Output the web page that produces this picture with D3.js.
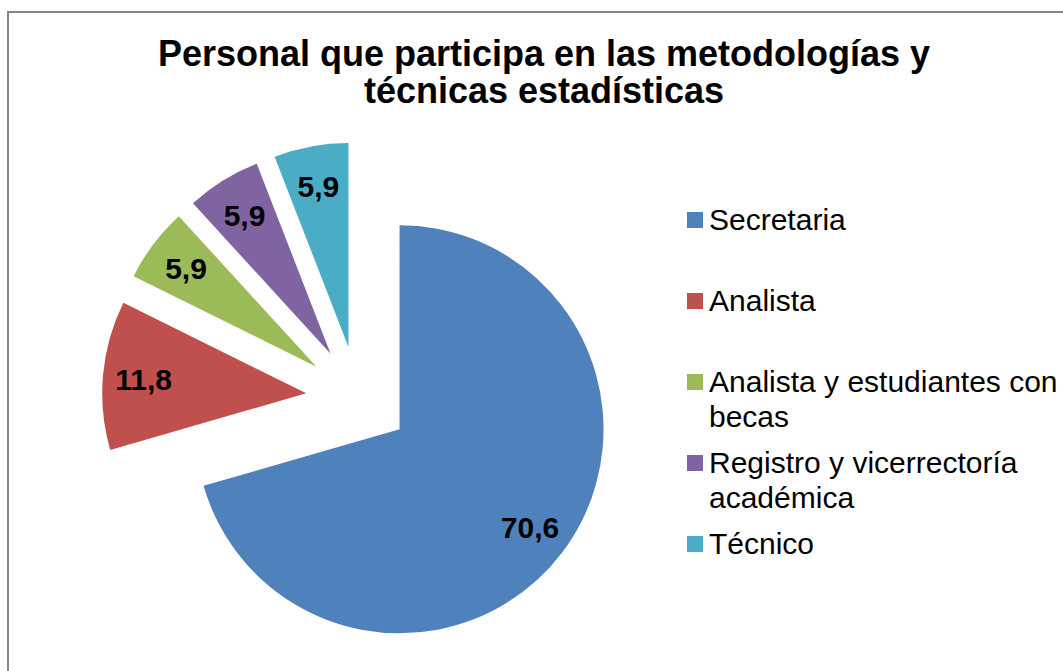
<!DOCTYPE html>
<html>
<head>
<meta charset="utf-8">
<script src="https://cdn.jsdelivr.net/npm/d3@7"></script>
<style>
  html, body { margin: 0; padding: 0; background: #fff; }
  svg { display: block; font-family: "Liberation Sans", Arial, sans-serif; }
</style>
</head>
<body>
<div id="chart"></div>
<script>
// ---- Data ----
const categories = [
  "Secretaria",
  "Analista",
  "Analista y estudiantes con becas",
  "Registro y vicerrectoría académica",
  "Técnico"
];
const values = [70.6, 11.8, 5.9, 5.9, 5.9];
const valueLabels = ["70,6", "11,8", "5,9", "5,9", "5,9"];
const colors = ["#4F81BD", "#C0504D", "#9BBB59", "#8064A2", "#4BACC6"];
const titleLines = ["Personal que participa en las metodologías y", "técnicas estadísticas"];

const W = 1063, H = 671;
const svg = d3.select("#chart").append("svg")
  .attr("width", W).attr("height", H);

// chart area border (runs off right/bottom like the source)
svg.append("rect")
  .attr("x", 8).attr("y", 12)
  .attr("width", W + 20).attr("height", H + 20)
  .attr("fill", "#fff")
  .attr("stroke", "#868686")
  .attr("stroke-width", 2);

// ---- Title ----
svg.append("text")
  .attr("text-anchor", "middle")
  .attr("font-size", 36)
  .attr("font-weight", "bold")
  .attr("fill", "#000")
  .selectAll("tspan")
  .data(titleLines)
  .join("tspan")
  .attr("x", 544)
  .attr("y", (d, i) => 66 + i * 37)
  .text(d => d);

// ---- Pie ----
const cx = 358, cy = 398, radius = 204, explode = 52;
const pie = d3.pie().sort(null).value(d => d.value);
const arcs = pie(values.map((v, i) => ({ value: v, i })));
const arc = d3.arc().innerRadius(0).outerRadius(radius);
const labelArc = d3.arc().innerRadius(radius * 0.8).outerRadius(radius * 0.8);

const g = svg.append("g").attr("transform", `translate(${cx},${cy})`);

const slices = g.selectAll("g.slice")
  .data(arcs)
  .join("g")
  .attr("class", "slice")
  .attr("transform", d => {
    const a = (d.startAngle + d.endAngle) / 2;
    return `translate(${Math.sin(a) * explode},${-Math.cos(a) * explode})`;
  });

slices.append("path")
  .attr("d", arc)
  .attr("fill", d => colors[d.data.i]);

slices.append("text")
  .attr("transform", d => `translate(${labelArc.centroid(d)})`)
  .attr("text-anchor", "middle")
  .attr("dy", "0.36em")
  .attr("font-size", 30)
  .attr("font-weight", "bold")
  .attr("fill", "#000")
  .text(d => valueLabels[d.data.i]);

// ---- Legend ----
const legX = 687, legY0 = 220, legStep = 81, sw = 16, lineH = 35, maxW = 356;
const leg = svg.append("g");

categories.forEach((name, i) => {
  const yc = legY0 + i * legStep;
  leg.append("rect")
    .attr("x", legX).attr("y", yc - sw / 2)
    .attr("width", sw).attr("height", sw)
    .attr("fill", colors[i]);

  const t = leg.append("text")
    .attr("font-size", 30)
    .attr("fill", "#000");

  // simple word wrap
  const words = name.split(" ");
  let line = [], ln = 0;
  let tspan = t.append("tspan").attr("x", legX + 22).attr("y", yc + 10);
  words.forEach(w => {
    line.push(w);
    tspan.text(line.join(" "));
    if (tspan.node().getComputedTextLength() > maxW && line.length > 1) {
      line.pop();
      tspan.text(line.join(" "));
      line = [w];
      ln++;
      tspan = t.append("tspan").attr("x", legX + 22)
        .attr("y", yc + 10 + ln * lineH).text(w);
    }
  });
});
</script>
</body>
</html>
